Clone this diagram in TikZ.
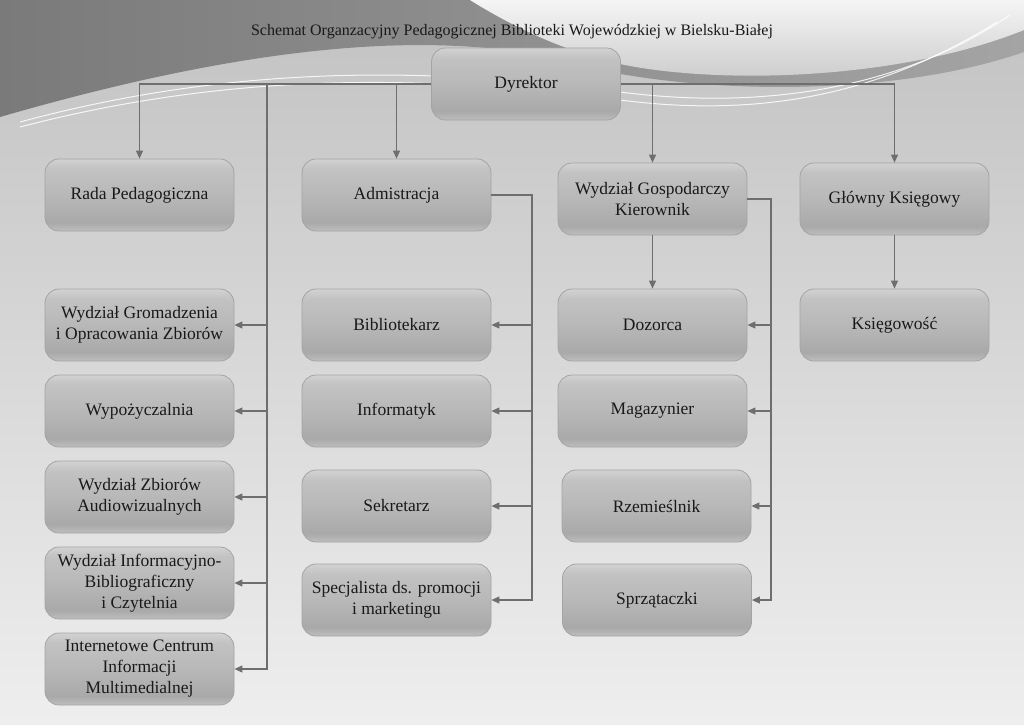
\documentclass[tikz,border=0pt]{standalone}
\usepackage{fontspec}
\setmainfont{Liberation Serif}
\usepackage{tikz}
\usetikzlibrary{arrows.meta,positioning}

\definecolor{bxTop}{HTML}{D2D2D2}
\definecolor{bxTopB}{HTML}{C2C2C2}
\definecolor{bxMid}{HTML}{B8B8B8}
\definecolor{bxDark}{HTML}{A9A9A9}
\definecolor{bxBot}{HTML}{BEBEBE}
\definecolor{bxLine}{HTML}{A4A4A4}
\definecolor{lnk}{HTML}{6E6E6E}
\definecolor{bgTop}{HTML}{C2C2C2}
\definecolor{bgBot}{HTML}{EEEEEE}
\definecolor{wvDark}{HTML}{7A7A7A}
\definecolor{wvLight}{HTML}{A4A4A4}
\pgfdeclareverticalshading{boxgrad}{100bp}{color(0bp)=(bxBot); color(25bp)=(bxBot);
  color(31bp)=(bxDark); color(50bp)=(bxMid); color(68bp)=(bxTopB); color(75bp)=(bxTop);
  color(100bp)=(bxTop)}

\begin{document}
\begin{tikzpicture}[->,>={Triangle[length=8pt,width=7pt]}
	,x=1pt,y=-1pt
	,line width=1.1pt]
  \tikzset{box/.style={draw=bxLine,line width=0.8pt,rounded corners=14pt
    ,shading=boxgrad,minimum width=189pt,minimum height=72pt
    ,align=center,text=black!90,font=\fontsize{17.5}{21}\selectfont}
  ,link/.style={draw=lnk}}

  % background
  \useasboundingbox (0,0) rectangle (1024,724);
  \shade[top color=bgTop,bottom color=bgBot,draw=none] (0,0) rectangle (1024,724);
  \shade[left color=wvDark,right color=wvLight,draw=none]
    (0,0) -- (1024,0) -- (1024,52)
    .. controls (900,95) and (720,95) .. (600,70)
    .. controls (480,32) and (300,30) .. (0,117) -- cycle;
  \shade[top color=gray!8,bottom color=gray!42,draw=none]
    (470,0) -- (1024,0) -- (1024,30)
    .. controls (900,80) and (720,85) .. (620,64)
    .. controls (560,50) and (510,25) .. (470,0) -- cycle;
  \draw[-,white,opacity=.85,line width=1pt]
    (20,122) .. controls (250,60) and (450,70) .. (620,92)
    .. controls (760,110) and (900,90) .. (1010,15);
  \draw[-,white,opacity=.85,line width=1pt]
    (20,127) .. controls (250,67) and (450,78) .. (620,100)
    .. controls (760,118) and (880,95) .. (997,22);

  \node[anchor=base,font=\fontsize{16}{19}\selectfont,text=black!90] (title) at (512,35)
    {Schemat Organzacyjny Pedagogicznej Biblioteki Wojewódzkiej w Bielsku-Białej};

  % top
  \node[box] (dyr) at (526,84) {Dyrektor};
  % first row
  \node[box] (rada)   at (139.5,195) {Rada Pedagogiczna};
  \node[box] (adm)    at (396.5,195) {Admistracja};
  \node[box] (wgosp)  at (652.5,199) {Wydział Gospodarczy\\Kierownik};
  \node[box] (gksieg) at (894.5,199) {Główny Księgowy};
  % column 1
  \node[box] (wgrom) at (139.5,325) {Wydział Gromadzenia\\i Opracowania Zbiorów};
  \node[box] (wypo)  at (139.5,411) {Wypożyczalnia};
  \node[box] (wzau)  at (139.5,497) {Wydział Zbiorów\\Audiowizualnych};
  \node[box] (winf)  at (139.5,583) {Wydział Informacyjno-\\Bibliograficzny\\i Czytelnia};
  \node[box] (icim)  at (139.5,669) {Internetowe Centrum\\Informacji\\Multimedialnej};
  % column 2
  \node[box] (bibl) at (396.5,325) {Bibliotekarz};
  \node[box] (info) at (396.5,411) {Informatyk};
  \node[box] (sekr) at (396.5,506) {Sekretarz};
  \node[box] (spec) at (396.5,600) {Specjalista ds. promocji\\i marketingu};
  % column 3
  \node[box] (dozo) at (652.5,325) {Dozorca};
  \node[box] (maga) at (652.5,411) {Magazynier};
  \node[box] (rzem) at (656.5,506) {Rzemieślnik};
  \node[box] (sprz) at (657,600) {Sprzątaczki};
  % column 4
  \node[box] (ksieg) at (894.5,325) {Księgowość};

  \coordinate (lbus) at (267,84);
  \coordinate (abus) at (532,195);
  \coordinate (gbus) at (771,199);

  % from Dyrektor
  \draw[link] (dyr.west) -| (rada);
  \draw[link] (dyr.west) -| (adm);
  \draw[link] (dyr.east) -| (wgosp);
  \draw[link] (dyr.east) -| (gksieg);
  % left bus
  \draw[link] (lbus) |- (wgrom);
  \draw[link] (lbus) |- (wypo);
  \draw[link] (lbus) |- (wzau);
  \draw[link] (lbus) |- (winf);
  \draw[link] (lbus) |- (icim);
  % Admistracja
  \draw[link] (adm.east) -- (abus) |- (bibl);
  \draw[link] (abus) |- (info);
  \draw[link] (abus) |- (sekr);
  \draw[link] (abus) |- (spec);
  % Wydzial Gospodarczy
  \draw[link] (wgosp) -- (dozo);
  \draw[link] (wgosp.east) -- (gbus) |- (dozo);
  \draw[link] (gbus) |- (maga);
  \draw[link] (gbus) |- (rzem);
  \draw[link] (gbus) |- (sprz);
  % Glowny Ksiegowy
  \draw[link] (gksieg) -- (ksieg);

\end{tikzpicture}
\end{document}
